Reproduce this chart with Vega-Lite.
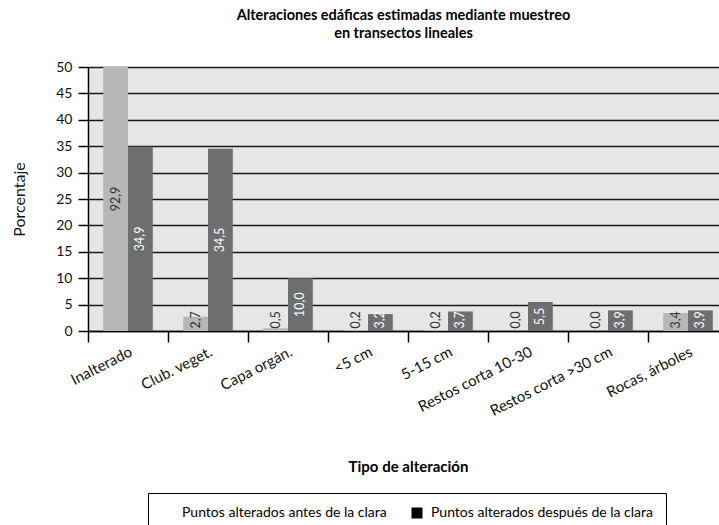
{
  "$schema": "https://vega.github.io/schema/vega-lite/v6.json",
  "width": 631,
  "height": 264,
  "autosize": {"type": "none"},
  "padding": {"left": 88, "top": 67, "right": 0, "bottom": 194},
  "background": "white",
  "title": {
    "text": ["Alteraciones edáficas estimadas mediante muestreo", "en transectos lineales"],
    "font": "Lato", "fontSize": 14.5, "fontWeight": "bold", "color": "#000000",
    "anchor": "middle", "offset": 19, "lineHeight": 18
  },
  "config": {
    "locale": {"number": {"decimal": ",", "thousands": ".", "grouping": [3], "currency": ["", " €"]}},
    "view": {"fill": "#e6e6e6", "stroke": null},
    "font": "Lato",
    "axisY": {
      "titleFont": "Lato", "titleFontSize": 16, "titleFontWeight": "normal", "titleColor": "#111111",
      "titlePadding": 28,
      "labelFontSize": 14, "labelColor": "#111111", "labelPadding": 6,
      "tickSize": 10, "tickColor": "#000000", "tickWidth": 1.5,
      "domainColor": "#000000", "domainWidth": 1.5,
      "grid": true, "gridColor": "#1a1a1a", "gridWidth": 1.5
    }
  },
  "data": {
    "values": [
      {"cat": "Inalterado", "serie": "Puntos alterados antes de la clara", "value": 92.9},
      {"cat": "Inalterado", "serie": "Puntos alterados después de la clara", "value": 34.9},
      {"cat": "Club. veget.", "serie": "Puntos alterados antes de la clara", "value": 2.7},
      {"cat": "Club. veget.", "serie": "Puntos alterados después de la clara", "value": 34.5},
      {"cat": "Capa orgán.", "serie": "Puntos alterados antes de la clara", "value": 0.5},
      {"cat": "Capa orgán.", "serie": "Puntos alterados después de la clara", "value": 10.0},
      {"cat": "<5 cm", "serie": "Puntos alterados antes de la clara", "value": 0.2},
      {"cat": "<5 cm", "serie": "Puntos alterados después de la clara", "value": 3.2},
      {"cat": "5-15 cm", "serie": "Puntos alterados antes de la clara", "value": 0.2},
      {"cat": "5-15 cm", "serie": "Puntos alterados después de la clara", "value": 3.7},
      {"cat": "Restos corta 10-30", "serie": "Puntos alterados antes de la clara", "value": 0.0},
      {"cat": "Restos corta 10-30", "serie": "Puntos alterados después de la clara", "value": 5.5},
      {"cat": "Restos corta >30 cm", "serie": "Puntos alterados antes de la clara", "value": 0.0},
      {"cat": "Restos corta >30 cm", "serie": "Puntos alterados después de la clara", "value": 3.9},
      {"cat": "Rocas, árboles", "serie": "Puntos alterados antes de la clara", "value": 3.4},
      {"cat": "Rocas, árboles", "serie": "Puntos alterados después de la clara", "value": 3.9}
    ]
  },
  "encoding": {
    "x": {
      "field": "cat", "type": "nominal", "sort": null,
      "scale": {"range": [0, 640], "paddingInner": 0, "paddingOuter": 0},
      "axis": {
        "title": "Tipo de alteración", "titleFont": "Lato", "titleFontSize": 15, "titleFontWeight": "bold", "titleColor": "#000000",
        "titleY": 140, "titleBaseline": "alphabetic",
        "labelAngle": -27, "labelAlign": "right", "labelBaseline": "top", "labelPadding": 2,
        "labelFontSize": 15, "labelColor": "#111111", "labelFont": "Lato",
        "bandPosition": 0, "tickSize": 11, "tickColor": "#000000", "tickWidth": 1.5,
        "domainColor": "#000000", "domainWidth": 1.5, "grid": false
      }
    },
    "xOffset": {
      "field": "serie", "type": "nominal",
      "sort": ["Puntos alterados antes de la clara", "Puntos alterados después de la clara"],
      "scale": {"paddingInner": 0, "paddingOuter": 0.613}
    }
  },
  "layer": [
    {
      "mark": {"type": "bar", "clip": true},
      "encoding": {
        "y": {
          "field": "value", "type": "quantitative",
          "scale": {"domain": [0, 50], "nice": false},
          "axis": {"values": [0, 5, 10, 15, 20, 25, 30, 35, 40, 45, 50], "title": "Porcentaje"}
        },
        "fill": {
          "field": "serie", "type": "nominal",
          "sort": ["Puntos alterados antes de la clara", "Puntos alterados después de la clara"],
          "scale": {"range": ["#b7b7b7", "#6e6e6e"]},
          "legend": null
        }
      }
    },
    {
      "transform": [{"calculate": "max(min(datum.value, 50) / 2, 2.1)", "as": "pos"}],
      "mark": {"type": "text", "angle": 270, "fontSize": 12.5, "font": "Lato", "baseline": "middle", "align": "center"},
      "encoding": {
        "y": {
          "field": "pos", "type": "quantitative",
          "axis": {"values": [0, 5, 10, 15, 20, 25, 30, 35, 40, 45, 50], "title": "Porcentaje"}
        },
        "text": {"field": "value", "type": "quantitative", "format": ".1f"},
        "color": {
          "condition": {"test": "datum.serie === 'Puntos alterados antes de la clara'", "value": "#333333"},
          "value": "#ffffff"
        }
      }
    },
    {
      "transform": [{"filter": "false"}],
      "mark": {"type": "square", "filled": true},
      "encoding": {
        "y": {"field": "value", "type": "quantitative", "axis": {"values": [0, 5, 10, 15, 20, 25, 30, 35, 40, 45, 50], "title": "Porcentaje"}},
        "color": {
          "field": "serie", "type": "nominal",
          "scale": {
            "domain": ["Puntos alterados antes de la clara", "Puntos alterados después de la clara"],
            "range": ["#ffffff", "#000000"]
          },
          "legend": {
            "title": null, "orient": "none", "legendX": 60, "legendY": 426,
            "direction": "horizontal", "columnPadding": 23,
            "symbolType": "square", "symbolSize": 121, "symbolStrokeWidth": 0, "symbolOpacity": 1,
            "labelFontSize": 14, "labelColor": "#000000", "labelFont": "Lato", "labelOffset": 7, "labelLimit": 400,
            "padding": 13, "strokeColor": "#000000"
          }
        }
      }
    }
  ]
}
